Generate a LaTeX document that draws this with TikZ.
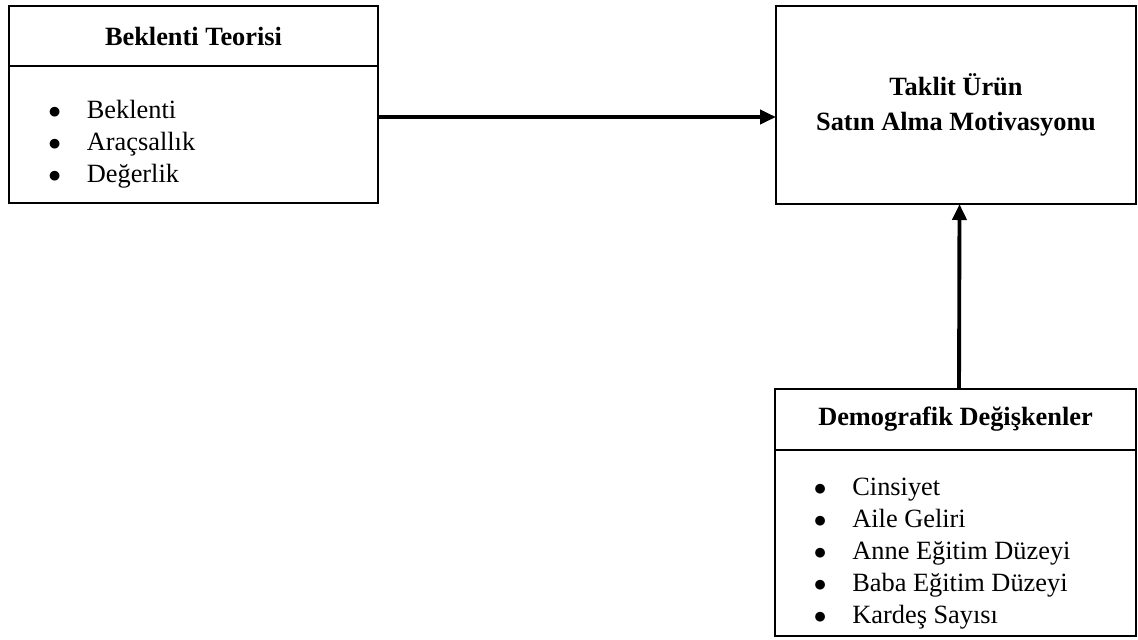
\documentclass[tikz,border=0pt]{standalone}
\usepackage{fontspec}
\setmainfont{Liberation Serif}
\usetikzlibrary{arrows.meta}
\newcommand{\bulitem}[1]{\makebox[0.77cm][l]{$\bullet$}#1}

\begin{document}
\begin{tikzpicture}
\tikzstyle{box} = [rectangle, draw=black, line width=1.4pt, outer sep=0pt, anchor=north west, align=center, font=\fontsize{15}{19.5}\selectfont\bfseries]
\tikzstyle{list} = [anchor=north west, inner sep=0pt, align=left, font=\fontsize{15}{18.2}\selectfont]
\tikzstyle{arrow} = [-{Triangle[length=0.32cm, width=0.28cm]}, line width=2.2pt]
\useasboundingbox (0, 0) rectangle (22.76, -12.78);
\node[box, minimum width=7.38cm, minimum height=1.2cm] (beklentihead) at (0.18, -0.12) {Beklenti Teorisi};
\node[box, minimum width=7.38cm, minimum height=2.74cm] (beklentibody) at (beklentihead.south west) {};
\node[list] (beklentilist) at (0.96, -2.0) {\bulitem{Beklenti}\\ \bulitem{Araçsallık}\\ \bulitem{Değerlik}};
\node[box, minimum width=7.2cm, minimum height=3.96cm] (target) at (15.52, -0.12) {Taklit Ürün\\ Satın Alma Motivasyonu};
\node[box, minimum width=7.22cm, minimum height=1.22cm] (demohead) at (15.5, -7.78) {Demografik Değişkenler};
\node[box, minimum width=7.22cm, minimum height=3.72cm] (demobody) at (demohead.south west) {};
\node[list] (demolist) at (16.27, -9.56) {\bulitem{Cinsiyet}\\ \bulitem{Aile Geliri}\\ \bulitem{Anne Eğitim Düzeyi}\\ \bulitem{Baba Eğitim Düzeyi}\\ \bulitem{Kardeş Sayısı}};
\draw[arrow] ([yshift=0.35cm]beklentibody.east) -- ([yshift=-0.24cm]target.west);
\draw[arrow] ([xshift=0.07cm]demohead.north) -- ([xshift=0.07cm]target.south);
\end{tikzpicture}
\end{document}
